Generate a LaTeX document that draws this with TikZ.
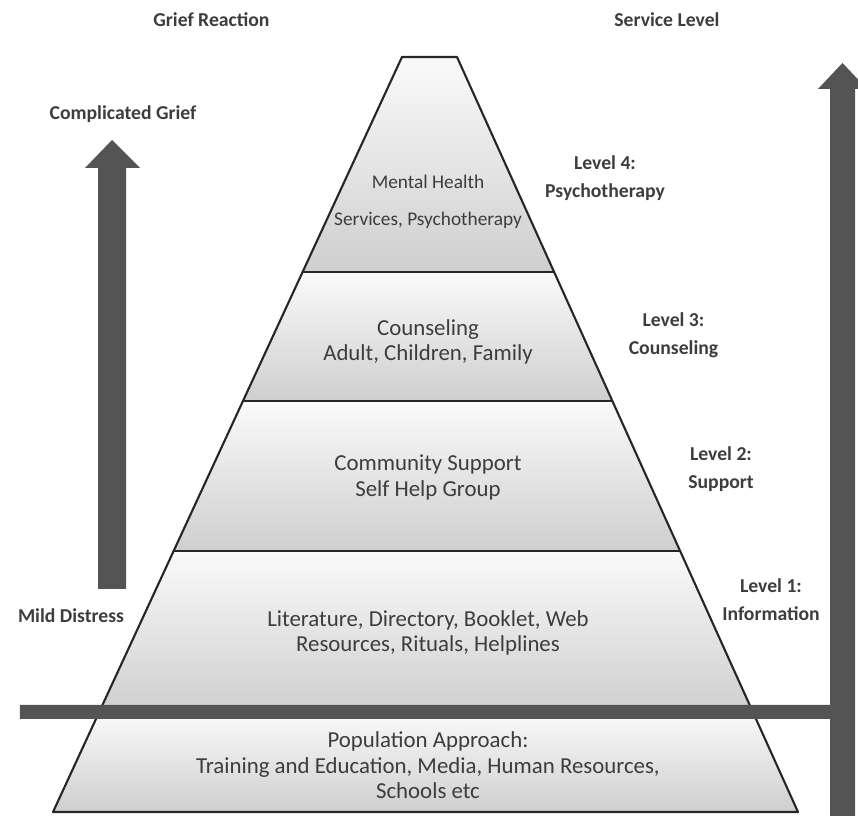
\documentclass[tikz,border=0pt]{standalone}
\usepackage{fontspec}
\setmainfont{Carlito}
\usepackage{tkz-euclide}
\definecolor{BarClr}{gray}{0.33}
\definecolor{TxtClr}{gray}{0.24}
\tikzset{
  band/.style={top color=gray!4,bottom color=gray!38},
  lvltext/.style={font=\fontsize{13}{14.5}\selectfont,text=TxtClr,align=center},
  toptext/.style={font=\fontsize{11}{21}\selectfont,text=TxtClr,align=center},
  sidetag/.style={font=\bfseries\fontsize{11.2}{16}\selectfont,text=TxtClr,align=center}
}

\begin{document}
\begin{tikzpicture}
\useasboundingbox (0,0) rectangle (17.16,16.32);
\clip (0,0) rectangle (17.16,16.32);
\tkzSetUpLine[line width=1.2pt,color=black!85]

% pyramid corners
\tkzDefPoints{1.06/0.08/B,15.96/0.08/C,8.04/15.18/A,9.14/15.18/D}
% heights where the levels are cut
\tkzDefPoints{0/10.88/P4,17/10.88/Q4,0/8.30/P3,17/8.30/Q3,0/5.30/P2,17/5.30/Q2,0/2.08/P1,17/2.08/Q1}

\tkzInterLL(B,A)(P4,Q4) \tkzGetPoint{L4}
\tkzInterLL(C,D)(P4,Q4) \tkzGetPoint{R4}
\tkzInterLL(B,A)(P3,Q3) \tkzGetPoint{L3}
\tkzInterLL(C,D)(P3,Q3) \tkzGetPoint{R3}
\tkzInterLL(B,A)(P2,Q2) \tkzGetPoint{L2}
\tkzInterLL(C,D)(P2,Q2) \tkzGetPoint{R2}
\tkzInterLL(B,A)(P1,Q1) \tkzGetPoint{L1}
\tkzInterLL(C,D)(P1,Q1) \tkzGetPoint{R1}

\tkzFillPolygon[band](A,D,R4,L4)
\tkzFillPolygon[band](L4,R4,R3,L3)
\tkzFillPolygon[band](L3,R3,R2,L2)
\tkzFillPolygon[band](L2,R2,R1,L1)
\tkzFillPolygon[band](L1,R1,C,B)

\tkzDrawSegments(L4,R4 L3,R3 L2,R2)
\tkzDrawPolygon(A,D,C,B)

% dividing bar
\tkzDefPoints{0.40/1.94/E1,16.7/1.94/E2,16.7/2.22/E3,0.40/2.22/E4}
\tkzFillPolygon[fill=BarClr](E1,E2,E3,E4)

% grief arrow
\tkzDefPoints{1.96/4.54/G1,2.52/4.54/G2,2.52/12.96/G3,2.80/12.96/G4,2.24/13.52/G5,1.70/12.96/G6,1.96/12.96/G7}
\tkzFillPolygon[fill=BarClr](G1,G2,G3,G4,G5,G6,G7)

% service arrow
\tkzDefPoints{16.60/-0.1/S1,17.10/-0.1/S2,17.10/14.54/S3,17.34/14.54/S4,16.85/15.06/S5,16.36/14.54/S6,16.60/14.54/S7}
\tkzFillPolygon[fill=BarClr](S1,S2,S3,S4,S5,S6,S7)

\node[sidetag] (grief) at (4.23,15.92) {Grief Reaction};
\node[sidetag] (service) at (13.34,15.92) {Service Level};
\node[sidetag] (complicated) at (2.46,14.04) {Complicated Grief};
\node[sidetag] (mild) at (1.42,4.00) {Mild Distress};

\node[sidetag] (lev4) at (12.10,12.76) {Level 4:\\Psychotherapy};
\node[sidetag] (lev3) at (13.47,9.62) {Level 3:\\Counseling};
\node[sidetag] (lev2) at (14.42,6.94) {Level 2:\\Support};
\node[sidetag] (lev1) at (15.42,4.32) {Level 1:\\Information};

\node[toptext] (therapy) at (8.56,12.28) {Mental Health\\Services, Psychotherapy};
\node[lvltext] (counsel) at (8.56,9.48) {Counseling\\Adult, Children, Family};
\node[lvltext] (support) at (8.56,6.77) {Community Support\\Self Help Group};
\node[lvltext] (info) at (8.56,3.66) {Literature, Directory, Booklet, Web\\Resources, Rituals, Helplines};
\node[lvltext] (population) at (8.56,1.01) {Population Approach:\\Training and Education, Media, Human Resources,\\Schools etc};

\end{tikzpicture}
\end{document}
